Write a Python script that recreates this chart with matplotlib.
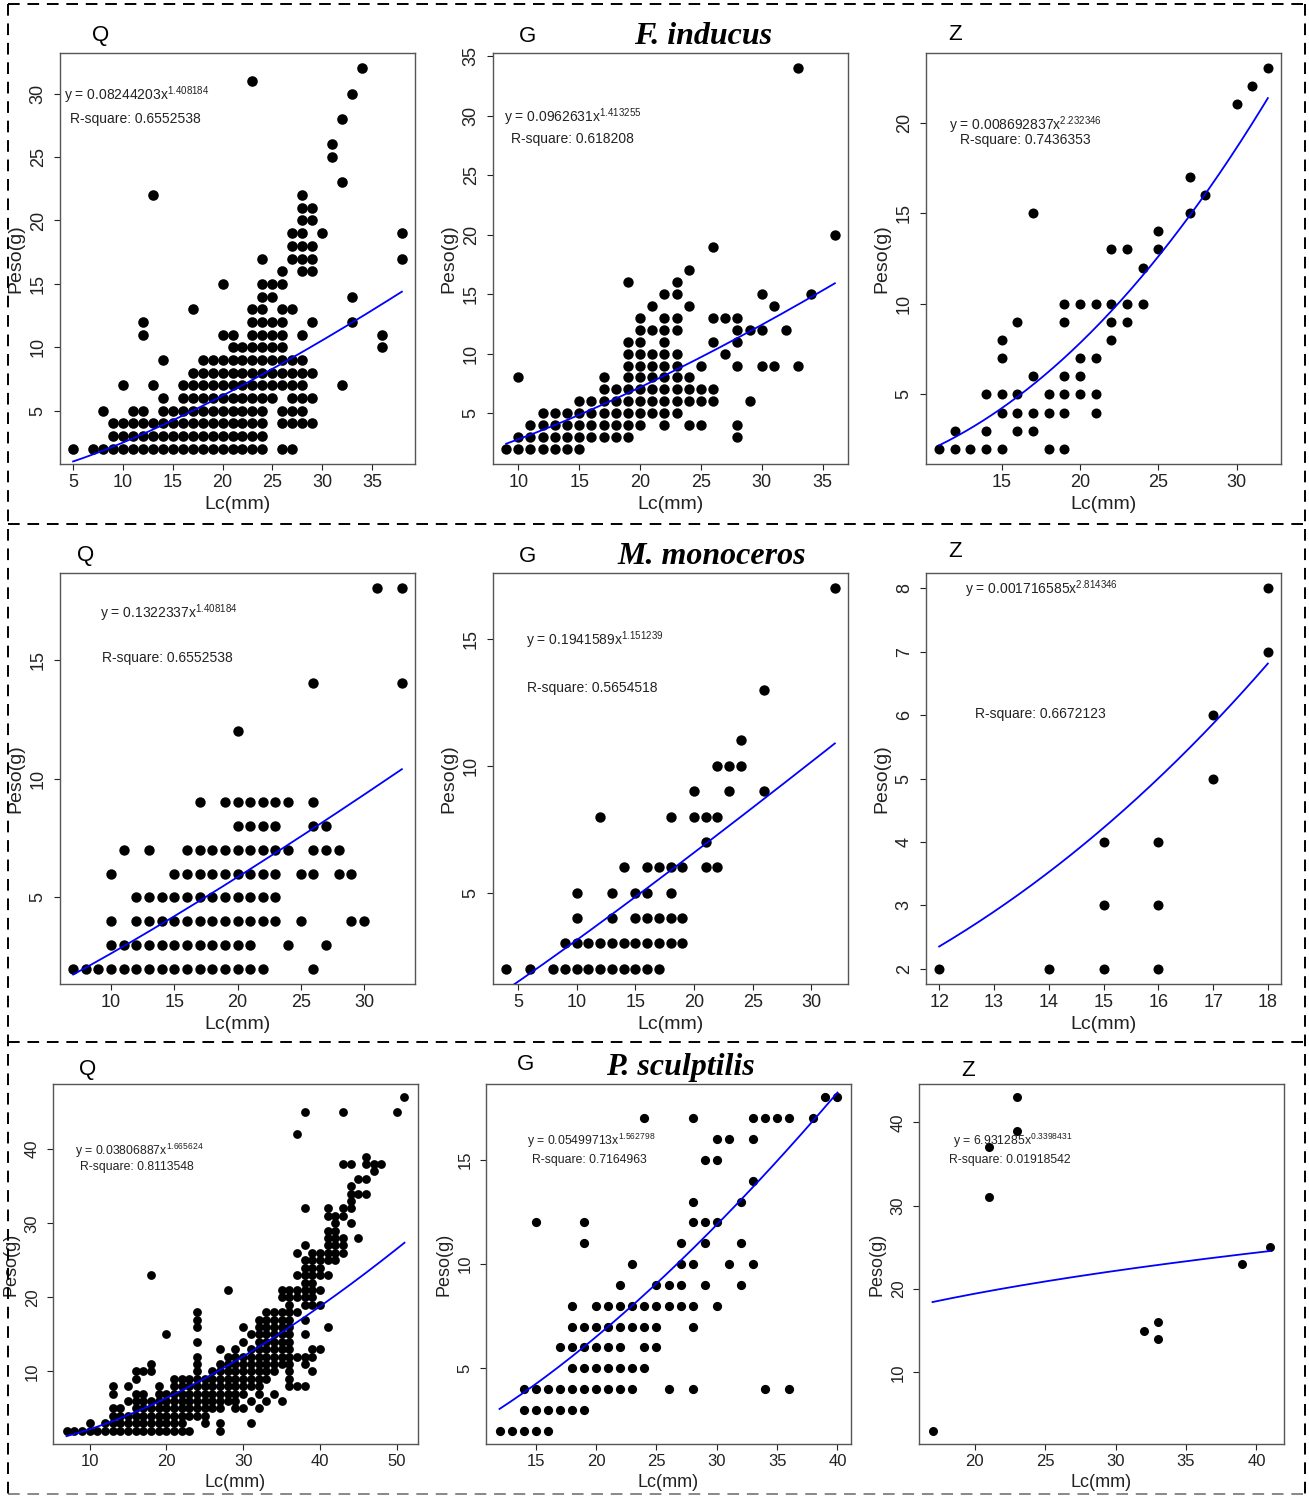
import matplotlib
matplotlib.use("Agg")
import matplotlib.pyplot as plt
from matplotlib.lines import Line2D
from matplotlib.ticker import MultipleLocator
import numpy as np

plt.rcParams['font.family'] = ['Liberation Sans', 'DejaVu Sans']
plt.rcParams['mathtext.fontset'] = 'custom'
plt.rcParams['mathtext.rm'] = 'Liberation Sans'
plt.rcParams['mathtext.it'] = 'Liberation Sans:italic'

W, H = 1309, 1497

# each list: (Lc in mm, [Peso in g at that length])
inducus_q = [(5, [2]), (7, [2]), (8, [2, 5]), (9, [2, 3, 4]), (10, [2, 3, 4, 7]),
             (11, [2, 3, 4, 5]), (12, [2, 3, 4, 5, 11, 12]), (13, [2, 3, 4, 7, 22]),
             (14, [2, 3, 4, 5, 6, 9]), (15, [2, 3, 4, 5]), (16, [2, 3, 4, 5, 6, 7]),
             (17, [2, 3, 4, 5, 6, 7, 8, 13]), (18, [2, 3, 4, 5, 6, 7, 8, 9]),
             (19, [2, 3, 4, 5, 6, 7, 8, 9]), (20, [2, 3, 4, 5, 6, 7, 8, 9, 11, 15]),
             (21, [2, 3, 4, 5, 6, 7, 8, 9, 10, 11]), (22, [2, 3, 4, 5, 6, 7, 8, 9, 10]),
             (23, [2, 3, 4, 5, 6, 7, 8, 9, 10, 11, 12, 13, 31]),
             (24, [2, 3, 4, 5, 6, 7, 8, 9, 10, 11, 12, 13, 14, 15, 17]),
             (25, [6, 7, 8, 9, 10, 11, 12, 14, 15]),
             (26, [2, 4, 5, 7, 8, 9, 10, 11, 12, 13, 15, 16]),
             (27, [2, 4, 5, 6, 7, 8, 9, 13, 17, 18, 19]),
             (28, [4, 5, 6, 7, 8, 9, 11, 16, 17, 18, 19, 20, 21, 22]),
             (29, [4, 6, 8, 12, 16, 17, 18, 20, 21]), (30, [19]), (31, [25, 26]),
             (32, [7, 23, 28]), (33, [12, 14, 30]), (34, [32]), (36, [10, 11]), (38, [17, 19])]

inducus_g = [(9, [2]), (10, [2, 3, 8]), (11, [2, 3, 4]), (12, [2, 3, 4, 5]), (13, [2, 3, 4, 5]),
             (14, [2, 3, 4, 5]), (15, [2, 3, 4, 5, 6]), (16, [3, 4, 5, 6]),
             (17, [3, 4, 5, 6, 7, 8]), (18, [3, 4, 5, 6, 7]),
             (19, [3, 4, 5, 6, 7, 8, 9, 10, 11, 16]), (20, [4, 5, 6, 7, 8, 9, 10, 11, 12, 13]),
             (21, [5, 6, 7, 8, 9, 10, 12, 14]), (22, [4, 5, 6, 7, 8, 9, 10, 11, 12, 13, 15]),
             (23, [5, 6, 7, 8, 9, 10, 12, 13, 15, 16]), (24, [4, 6, 7, 8, 14, 17]),
             (25, [4, 6, 7, 9]), (26, [6, 7, 11, 13, 19]), (27, [10, 13]),
             (28, [3, 4, 9, 11, 12, 13]), (29, [6, 12]), (30, [9, 12, 15]), (31, [9, 14]),
             (32, [12]), (33, [9, 34]), (34, [15]), (36, [20])]

inducus_z = [(11, [2]), (12, [2, 3]), (13, [2]), (14, [2, 3, 5]), (15, [2, 4, 5, 7, 8]),
             (16, [3, 4, 5, 9]), (17, [3, 4, 6, 15]), (18, [2, 4, 5]), (19, [2, 4, 5, 6, 9, 10]),
             (20, [5, 6, 7, 10]), (21, [4, 5, 7, 10]), (22, [8, 9, 10, 13]), (23, [9, 10, 13]),
             (24, [10, 12]), (25, [13, 14]), (27, [15, 17]), (28, [16]), (30, [21]),
             (31, [22]), (32, [23])]

monoceros_q = [(7, [2]), (8, [2]), (9, [2]), (10, [2, 3, 4, 6]), (11, [2, 3, 7]),
               (12, [2, 3, 4, 5]), (13, [2, 3, 4, 5, 7]), (14, [2, 3, 4, 5]),
               (15, [2, 3, 4, 5, 6]), (16, [2, 3, 4, 5, 6, 7]), (17, [2, 3, 4, 5, 6, 7, 9]),
               (18, [2, 3, 4, 5, 6, 7]), (19, [2, 3, 4, 5, 6, 7, 9]),
               (20, [2, 3, 4, 5, 6, 7, 8, 9, 12]), (21, [2, 3, 4, 5, 6, 7, 8, 9]),
               (22, [2, 4, 5, 6, 7, 8, 9]), (23, [4, 5, 6, 7, 8, 9]), (24, [3, 7, 9]),
               (25, [4, 6]), (26, [2, 6, 7, 8, 9, 14]), (27, [3, 7, 8]), (28, [6, 7]),
               (29, [4, 6]), (30, [4]), (31, [18]), (33, [14, 18])]

monoceros_g = [(4, [2]), (6, [2]), (8, [2]), (9, [2, 3]), (10, [2, 3, 4, 5]), (11, [2, 3]),
               (12, [2, 3, 8]), (13, [2, 3, 4, 5]), (14, [2, 3, 6]), (15, [2, 3, 4, 5]),
               (16, [2, 3, 4, 5, 6]), (17, [2, 3, 4, 6]), (18, [3, 4, 5, 6, 8]),
               (19, [3, 4, 6]), (20, [8, 9]), (21, [6, 7, 8]), (22, [6, 8, 10]),
               (23, [9, 10]), (24, [10, 11]), (26, [9, 13]), (32, [17])]

monoceros_z = [(12, [2]), (14, [2]), (15, [2, 3, 4]), (16, [2, 3, 4]), (17, [5, 6]), (18, [7, 8])]

sculptilis_q = [(7, [2]), (8, [2]), (9, [2]), (10, [2, 3]), (11, [2]), (12, [2, 3]),
                (13, [2, 3, 4, 5, 7, 8]), (14, [2, 3, 4, 5]), (15, [2, 3, 4, 6, 8]),
                (16, [2, 3, 4, 5, 6, 7, 9, 10]), (17, [2, 3, 4, 5, 6, 7, 10]),
                (18, [2, 3, 4, 5, 6, 10, 11, 23]), (19, [2, 3, 4, 5, 6, 7, 8]),
                (20, [2, 3, 4, 5, 6, 7, 15]), (21, [2, 3, 4, 5, 6, 7, 8, 9]),
                (22, [2, 3, 4, 5, 6, 7, 8, 9]), (23, [2, 4, 5, 6, 7, 8, 9]),
                (24, [4, 5, 6, 7, 8, 9, 10, 11, 12, 14, 16, 17, 18]),
                (25, [3, 4, 5, 6, 7, 8, 9]), (26, [5, 6, 7, 8, 9, 10]),
                (27, [2, 3, 5, 6, 7, 8, 9, 10, 11, 13]), (28, [6, 7, 8, 9, 10, 11, 12, 21]),
                (29, [5, 6, 7, 8, 9, 10, 11, 12, 13]), (30, [5, 7, 8, 9, 10, 11, 12, 14, 16]),
                (31, [3, 6, 8, 9, 10, 11, 12, 13, 15]),
                (32, [5, 7, 8, 9, 10, 11, 12, 13, 14, 15, 16, 17]),
                (33, [6, 9, 10, 11, 12, 13, 14, 15, 16, 17, 18]),
                (34, [7, 10, 11, 12, 13, 14, 15, 16, 17, 18]),
                (35, [6, 11, 12, 13, 14, 15, 16, 17, 18, 20, 21]),
                (36, [8, 9, 10, 11, 12, 13, 14, 15, 16, 17, 18, 19, 20, 21]),
                (37, [8, 12, 18, 20, 21, 23, 26, 42]),
                (38, [8, 11, 12, 15, 17, 19, 20, 21, 22, 23, 24, 25, 27, 32, 45]),
                (39, [10, 12, 13, 19, 20, 21, 22, 23, 24, 25, 26]),
                (40, [13, 19, 21, 23, 24, 25, 26]), (41, [16, 23, 25, 26, 27, 28, 29, 31, 32]),
                (42, [25, 26, 27, 28, 29, 30, 31]), (43, [26, 27, 28, 31, 32, 38, 45]),
                (44, [30, 32, 33, 34, 35, 38]), (45, [28, 34, 36]), (46, [34, 36, 38, 39]),
                (47, [37, 38]), (48, [38]), (50, [45]), (51, [47])]

sculptilis_g = [(12, [2]), (13, [2]), (14, [2, 3, 4]), (15, [2, 3, 4, 12]), (16, [2, 3, 4]),
                (17, [3, 4, 6]), (18, [3, 4, 5, 6, 7, 8]), (19, [3, 4, 5, 6, 7, 11, 12]),
                (20, [4, 5, 6, 7, 8]), (21, [4, 5, 6, 7, 8]), (22, [4, 5, 6, 7, 8, 9]),
                (23, [4, 5, 7, 8, 10]), (24, [5, 6, 7, 8, 17]), (25, [6, 7, 8, 9]),
                (26, [4, 8, 9]), (27, [8, 9, 10, 11]), (28, [4, 7, 8, 10, 12, 13, 17]),
                (29, [9, 11, 12, 15]), (30, [8, 12, 15, 16]), (31, [10, 16]),
                (32, [9, 11, 13]), (33, [10, 14, 16, 17]), (34, [4, 17]), (35, [17]),
                (36, [4, 17]), (38, [17]), (39, [18]), (40, [18])]

sculptilis_z = [(17, [3]), (21, [31, 37]), (23, [39, 43]), (32, [15]), (33, [14, 16]),
                (39, [23]), (41, [25])]

# printed equations
eq_coef = ["0.08244203", "0.0962631", "0.008692837",
           "0.1322337", "0.1941589", "0.001716585",
           "0.03806887", "0.05499713", "6.931285"]
eq_exp = ["1.408184", "1.413255", "2.232346",
          "1.408184", "1.151239", "2.814346",
          "1.665624", "1.562798", "0.3398431"]
r_square = ["0.6552538", "0.618208", "0.7436353",
            "0.6552538", "0.5654518", "0.6672123",
            "0.8113548", "0.7164963", "0.01918542"]
# blue curve as it is drawn (a * Lc^b)
curve_a = [0.1208, 0.123, 0.01315, 0.189, 0.265, 0.003463, 0.0615, 0.0756, 7.32]
curve_b = [1.314, 1.357, 2.133, 1.146, 1.072, 2.624, 1.551, 1.487, 0.326]

species = ["F. inducus", "M. monoceros", "P. sculptilis"]
groups = ["Q", "G", "Z"]

datasets = [inducus_q, inducus_g, inducus_z,
            monoceros_q, monoceros_g, monoceros_z,
            sculptilis_q, sculptilis_g, sculptilis_z]

# layout in pixels
boxes = [(60, 53, 415, 464), (493, 53, 848, 464), (926, 53, 1281, 464),
         (60, 573, 415, 984), (493, 573, 848, 984), (926, 573, 1281, 984),
         (53, 1084, 418, 1444), (486, 1084, 851, 1444), (919, 1084, 1284, 1444)]
eq_pos = [(64, 95), (504, 117), (949, 125), (100, 613), (526, 640), (965, 589),
          (75, 1151), (527, 1141), (953, 1141)]
r2_pos = [(70, 119), (511, 139), (960, 140), (102, 658), (527, 688), (975, 714),
          (80, 1167), (532, 1160), (949, 1160)]
steps = [(5, 5), (5, 5), (5, 5), (5, 5), (5, 5), (1, 1), (10, 10), (5, 5), (5, 10)]
dot_size = [58, 56, 52, 56, 56, 52, 40, 44, 42]
letter_pos = [(101, 35), (528, 36), (955, 35), (86, 555), (528, 556), (955, 552),
              (88, 1070), (526, 1065), (968, 1070)]
title_pos = [(703, 36), (712, 556), (680, 1067)]

fig = plt.figure(figsize=(W / 100, H / 100), dpi=100)


def px(x, y):
    return x / W, 1 - y / H


for i, cols in enumerate(datasets):
    x0, y0, x1, y1 = boxes[i]
    bottom_row = i >= 6
    ax = fig.add_axes([x0 / W, 1 - y1 / H, (x1 - x0) / W, (y1 - y0) / H])
    xs = np.array([c for c, ys in cols for _ in ys], dtype=float)
    ys = np.array([v for _, ys in cols for v in ys], dtype=float)
    ax.scatter(xs, ys, s=dot_size[i], color='black', linewidths=0, zorder=2)
    xx = np.linspace(xs.min(), xs.max(), 300)
    ax.plot(xx, curve_a[i] * xx ** curve_b[i], color='#0000ff', lw=1.3, zorder=3)
    dx = (xs.max() - xs.min()) * 0.04
    dy = (ys.max() - ys.min()) * 0.04
    ax.set_xlim(xs.min() - dx, xs.max() + dx)
    ax.set_ylim(ys.min() - dy, ys.max() + dy)
    ax.xaxis.set_major_locator(MultipleLocator(steps[i][0]))
    ax.yaxis.set_major_locator(MultipleLocator(steps[i][1]))
    tfs = 12 if bottom_row else 13
    lfs = 13 if bottom_row else 14
    ax.tick_params(direction='out', length=4.5, width=0.8, colors='#222222',
                   labelsize=tfs, pad=3)
    ax.tick_params(axis='y', labelrotation=90, pad=5)
    for lab in ax.get_yticklabels():
        lab.set_verticalalignment('center')
    for sp in ax.spines.values():
        sp.set_color('#555555')
        sp.set_linewidth(1.0)
    ax.set_xlabel('Lc(mm)', fontsize=lfs, labelpad=3, color='#222222')
    ax.set_ylabel('Peso(g)', fontsize=lfs, labelpad=4, color='#222222')

    efs = 8.8 if bottom_row else 10
    ex, ey = px(*eq_pos[i])
    fig.text(ex, ey, 'y = %sx$^{%s}$' % (eq_coef[i], eq_exp[i]), fontsize=efs,
             ha='left', va='center', color='#222222')
    rx, ry = px(*r2_pos[i])
    fig.text(rx, ry, 'R-square: %s' % r_square[i], fontsize=efs,
             ha='left', va='center', color='#222222')

    lx, ly = px(*letter_pos[i])
    fig.text(lx, ly, groups[i % 3], fontsize=16, ha='center', va='center')

for k, name in enumerate(species):
    tx, ty = px(*title_pos[k])
    fig.text(tx, ty, name, family=['Liberation Serif', 'DejaVu Serif'], style='italic',
             weight='bold', fontsize=23, ha='center', va='center')

# dashed frame around the panels
dash = (0, (6, 4))
frame = [((8, 4), (1305, 4), 'black'), ((8, 524), (1305, 524), 'black'),
         ((8, 1042), (1305, 1042), 'black'), ((8, 1494), (1305, 1494), '#888888'),
         ((8, 4), (8, 1494), 'black'), ((1305, 4), (1305, 1494), 'black')]
for (a0, a1, col) in frame:
    p0 = px(*a0)
    p1 = px(*a1)
    fig.add_artist(Line2D([p0[0], p1[0]], [p0[1], p1[1]], transform=fig.transFigure,
                          color=col, lw=1.4, linestyle=dash))

fig.savefig('out.png', dpi=100)
